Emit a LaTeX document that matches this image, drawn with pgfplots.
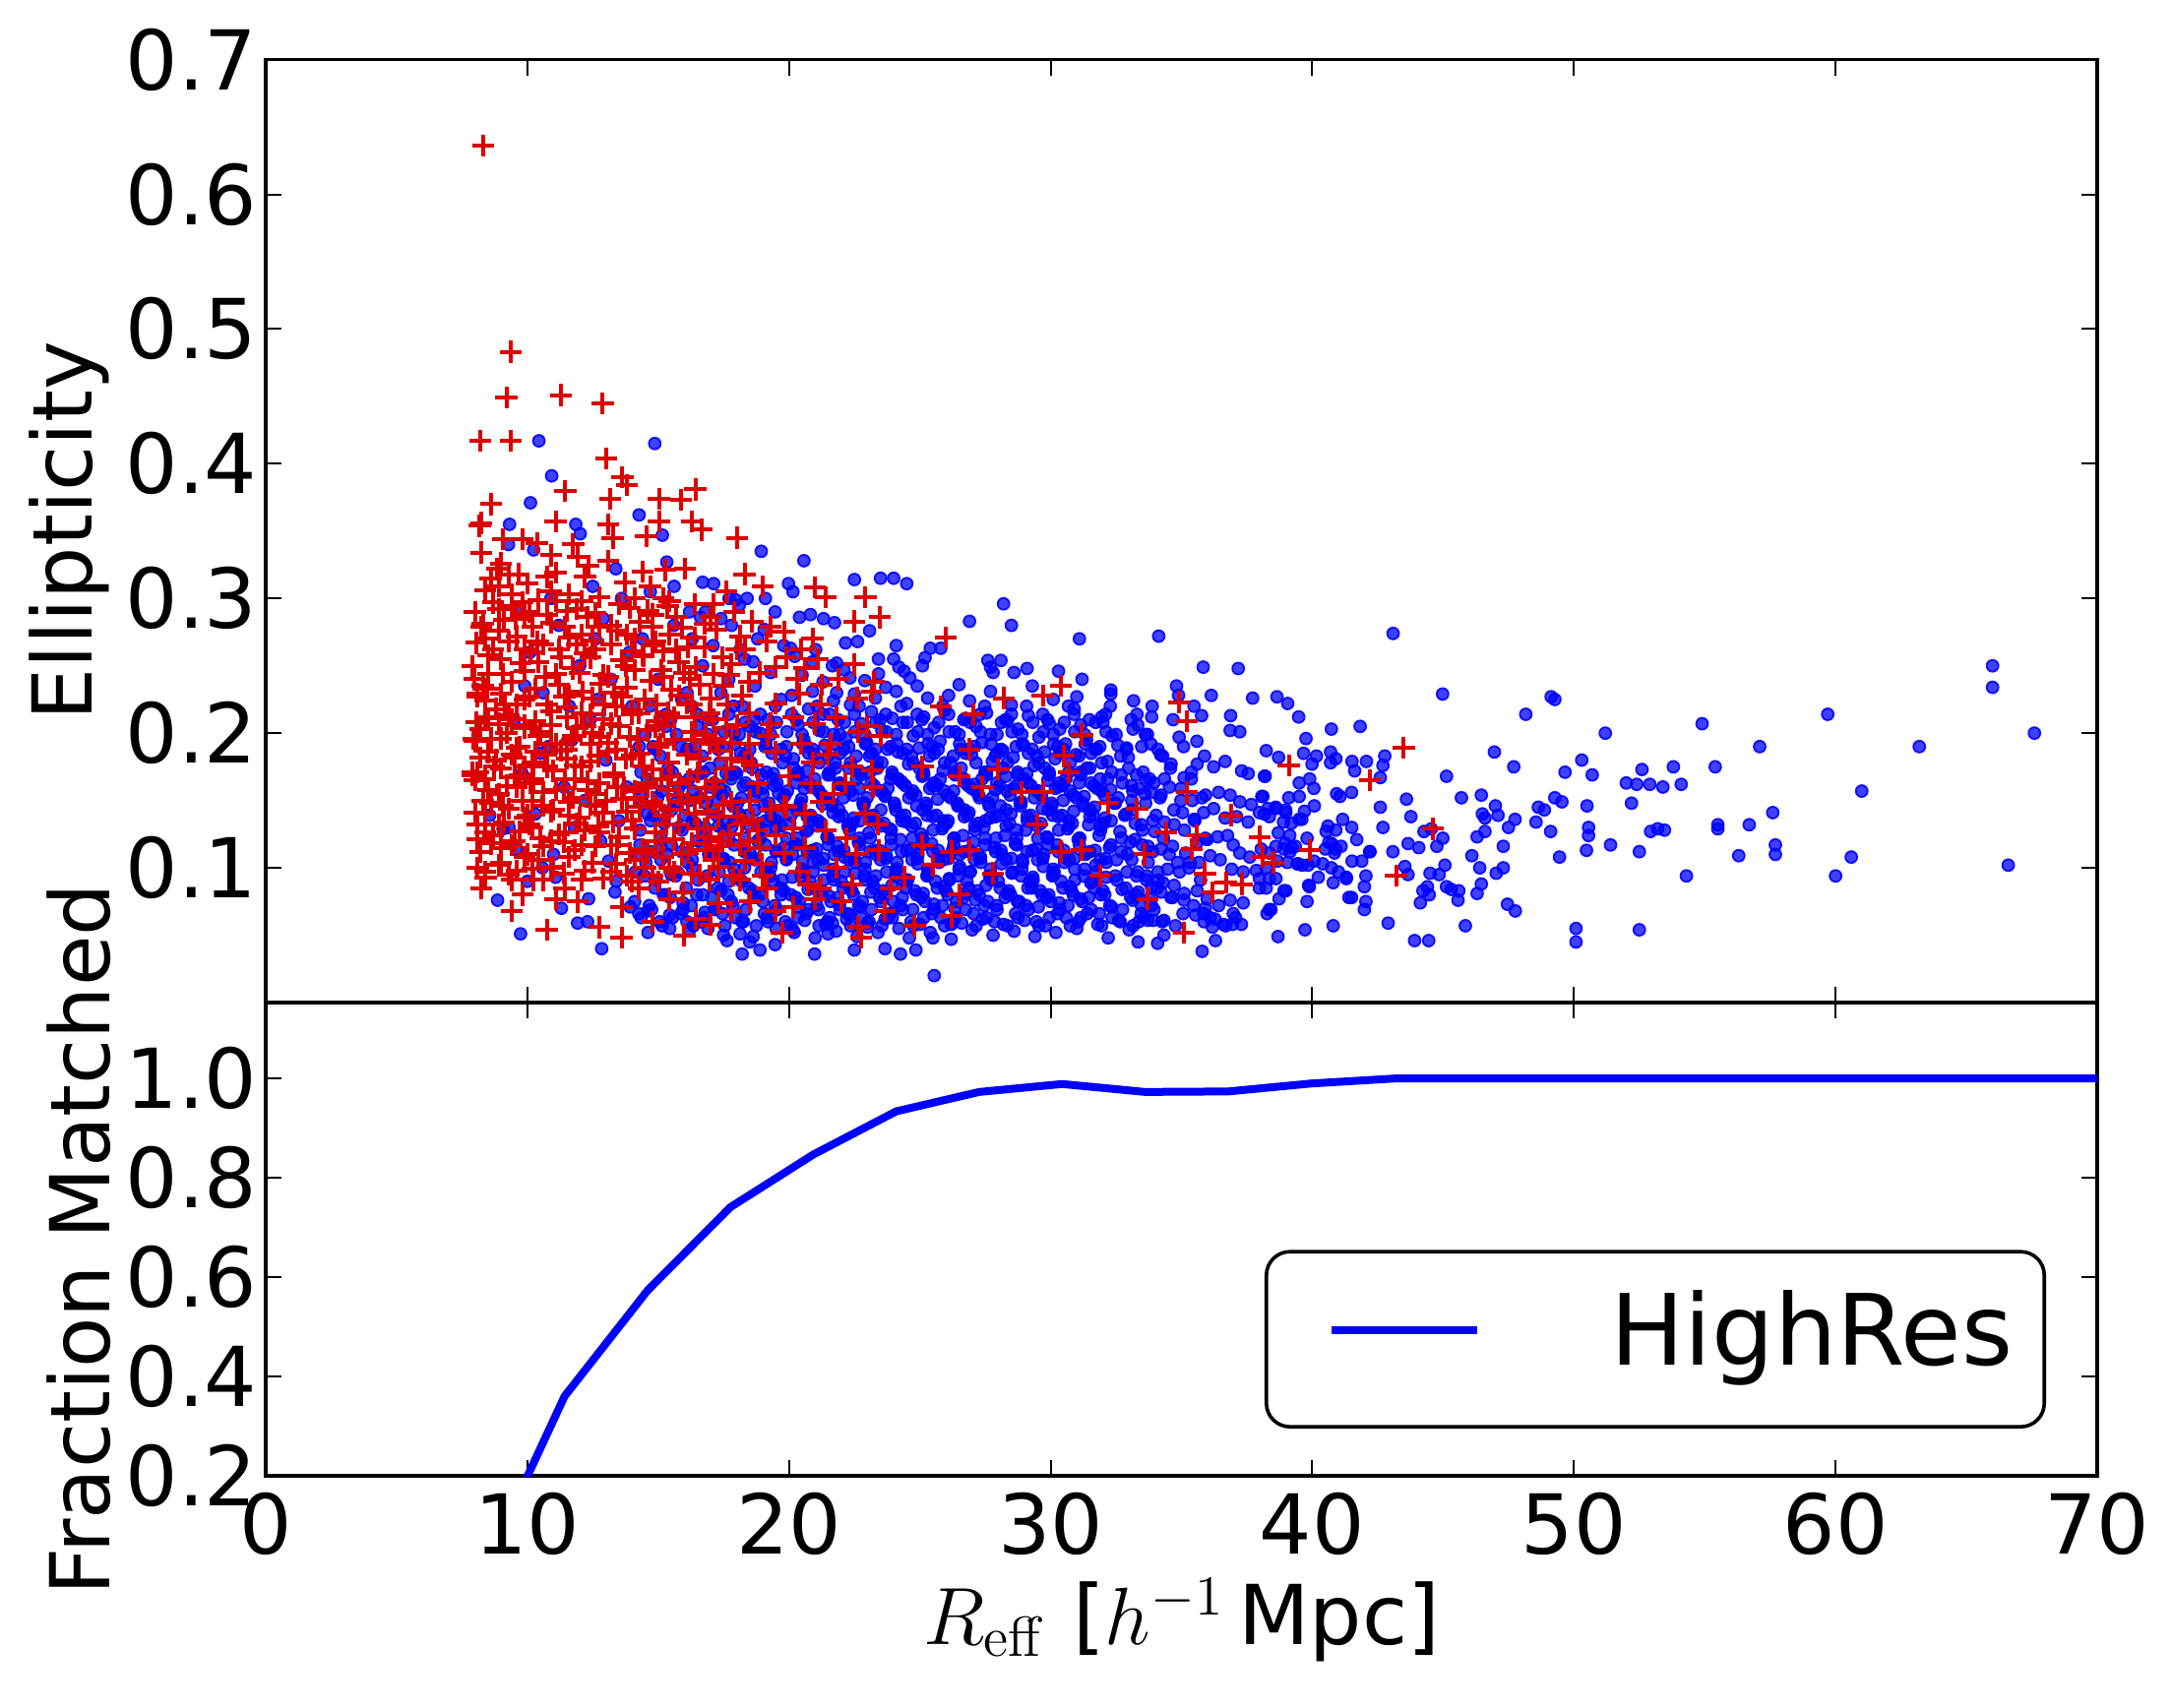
\documentclass[border=0pt]{standalone}
\usepackage{pgfplots}
\pgfplotsset{compat=1.18}
\usepackage[no-math]{fontspec}
\setmainfont{DejaVu Sans}
\definecolor{mred}{RGB}{220,0,0}
\begin{document}
\begin{tikzpicture}
\path[use as bounding box] (0,0) rectangle (551.75bp,434bp);
\pgfplotsset{every axis/.append style={
  scale only axis, width=465.25bp, xmin=0, xmax=70,
  axis line style={line width=0.9bp},
  every tick/.style={black, line width=0.5bp}, major tick length=4bp,
  tick align=inside,
  /pgf/number format/assume math mode=true,
  tick label style={font=\fontsize{21bp}{25bp}\selectfont},
  label style={font=\fontsize{21bp}{25bp}\selectfont},
  yticklabel style={inner xsep=2bp},
  xticklabel style={inner ysep=4bp},
}}
\begin{axis}[at={(67.5bp,59bp)}, anchor=south west, height=120.25bp,
  ymin=0.2, ymax=1.153,
  xtick={0,10,...,70},
  ytick={0.2,0.4,0.6,0.8,1.0}, yticklabels={0.2,0.4,0.6,0.8,1.0},
  xlabel={$R_{\mathrm{eff}}$ [$h^{-1}$\,Mpc]},
  xlabel style={at={(axis description cs:0.5,0)}, anchor=base, yshift=-42.75bp},
  ylabel={Fraction Matched},
  ylabel style={at={(axis description cs:-0.0849,0.5)}, anchor=base},
  legend style={at={(rel axis cs:0.5454,0.0998)}, anchor=south west, draw=black,
    line width=0.9bp, rounded corners=6bp, fill=white, inner xsep=8bp, inner ysep=9.8bp,
    font=\fontsize{25bp}{30bp}\selectfont,
    nodes={inner sep=0pt, text height=19bp, text depth=5.9bp}},
  legend image code/.code={\draw[#1] (8.5bp,2.2bp) -- (45.5bp,2.2bp); \path[draw=none] (0bp,0bp) -- (79.5bp,0bp);},
]
\addplot[blue, line width=2bp] coordinates {
(8.25,0.0) (11.42,0.360) (14.59,0.573) (17.76,0.741) (20.93,0.847) (24.10,0.934)
(27.27,0.973) (30.44,0.989) (33.61,0.973) (36.78,0.974) (39.95,0.990) (43.12,1.0)
(46.29,1.0) (49.46,1.0) (52.63,1.0) (55.80,1.0) (58.97,1.0) (62.14,1.0) (65.31,1.0) (68.48,1.0) (71.65,1.0)
};
\addlegendentry{HighRes}
\end{axis}
\begin{axis}[at={(67.5bp,179.25bp)}, anchor=south west, height=239.6bp,
  ymin=0, ymax=0.7,
  xtick={0,10,...,70}, xticklabels={},
  ytick={0.1,0.2,0.3,0.4,0.5,0.6,0.7}, yticklabels={0.1,0.2,0.3,0.4,0.5,0.6,0.7},
  ylabel={Ellipticity},
  ylabel style={at={(axis description cs:-0.0951,0.5)}, anchor=base},
]
\addplot[only marks, mark=*, mark size=1.5bp, mark options={fill=blue, draw=blue, fill opacity=0.75, draw opacity=0.9, line width=0.45bp}] coordinates {
(10.44,0.417) (14.87,0.415) (10.93,0.391) (10.12,0.371) (9.32,0.355) (9.28,0.340) (11.85,0.355) (12.02,0.348) (10.24,0.336) (14.27,0.362) (15.16,0.347) (18.94,0.335) (20.57,0.328) (13.38,0.322) (15.33,0.327) (16.70,0.312) (17.12,0.311) (17.71,0.300) (17.96,0.299) (19.98,0.311) (20.15,0.305) (22.50,0.314) (23.50,0.315) (19.47,0.290) (20.40,0.286) (20.82,0.288) (21.32,0.285) (21.74,0.282) (23.08,0.276) (22.16,0.267) (15.61,0.309) (12.50,0.309) (16.20,0.290) (16.62,0.286) (19.05,0.277) (18.63,0.253) (18.13,0.262) (20.06,0.263) (20.90,0.253) (21.66,0.250) (22.33,0.241) (21.82,0.230) (23.42,0.244)
(9.74,0.051) (8.86,0.076) (8.56,0.139) (11.92,0.059) (12.84,0.040) (14.61,0.052) (15.44,0.055) (16.20,0.054) (17.63,0.046) (18.21,0.036) (18.89,0.039) (19.47,0.043) (20.98,0.036) (22.50,0.039) (23.67,0.040) (24.26,0.036) (25.55,0.020) (24.85,0.039) (25.50,0.048) (26.20,0.058) (18.13,0.051) (18.63,0.049) (20.15,0.054) (21.49,0.051) (21.66,0.059) (22.33,0.065) (23.00,0.056) (23.67,0.062) (13.93,0.071) (14.61,0.068) (15.44,0.065) (15.95,0.074) (16.79,0.067) (12.34,0.077) (13.35,0.082) (11.08,0.093) (10.58,0.100) (9.57,0.114) (9.07,0.129)
(9.5,0.21) (9.8,0.17) (10.1,0.26) (10.3,0.14) (10.6,0.23) (10.8,0.19) (11.0,0.11) (11.2,0.28) (11.4,0.16) (11.6,0.22) (11.8,0.13) (12.0,0.25) (9.6,0.29) (10.0,0.09) (10.9,0.30) (11.3,0.07) (9.3,0.13) (9.9,0.235) (10.5,0.185) (11.7,0.195)
(12.2,0.15) (12.4,0.21) (12.6,0.27) (12.8,0.12) (13.0,0.18) (13.2,0.24) (13.4,0.09) (13.6,0.30) (13.8,0.16) (14.0,0.22) (14.2,0.11) (14.4,0.27) (14.6,0.14) (14.8,0.19) (15.0,0.24) (15.2,0.08) (15.4,0.17) (15.6,0.28) (15.8,0.13) (12.3,0.06) (12.9,0.285) (13.5,0.135) (14.1,0.075) (14.7,0.305) (15.3,0.205) (15.9,0.225) (13.1,0.105) (14.3,0.155) (15.1,0.115) (12.7,0.225) (13.9,0.26) (15.5,0.095)
(16.1,0.06) (16.3,0.10) (16.2,0.15) (16.4,0.19) (16.1,0.23) (16.3,0.27) (16.7,0.08) (16.8,0.13) (16.6,0.17) (16.9,0.21) (16.7,0.25) (16.8,0.29) (17.2,0.07) (17.1,0.11) (17.3,0.15) (17.2,0.19) (17.4,0.23) (17.1,0.265) (17.7,0.09) (17.8,0.13) (17.6,0.17) (17.9,0.20) (17.7,0.24) (17.8,0.28) (18.2,0.06) (18.3,0.10) (18.1,0.14) (18.4,0.18) (18.2,0.22) (18.3,0.255) (18.1,0.295) (18.7,0.08) (18.8,0.12) (18.6,0.16) (18.9,0.20) (18.7,0.235) (18.8,0.27) (19.2,0.06) (19.3,0.10) (19.1,0.135) (19.4,0.17) (19.2,0.21) (19.3,0.245) (19.1,0.30) (19.7,0.08) (19.8,0.115) (19.6,0.155) (19.9,0.19) (19.7,0.225) (19.8,0.265) (16.5,0.12) (17.0,0.16) (17.5,0.105) (18.0,0.17) (18.5,0.205) (19.0,0.155) (19.5,0.13) (16.9,0.055) (17.5,0.05) (18.5,0.045) (19.5,0.055) (16.5,0.205) (17.4,0.285) (18.4,0.30)
(20.20,0.052) (20.33,0.071) (20.12,0.093) (20.25,0.118) (20.08,0.139) (20.29,0.163) (20.17,0.181) (20.35,0.206) (20.10,0.228) (20.22,0.257)
(20.60,0.061) (20.73,0.084) (20.52,0.105) (20.65,0.127) (20.48,0.151) (20.69,0.172) (20.57,0.195) (20.75,0.218) (20.50,0.243)
(21.00,0.048) (21.13,0.069) (20.92,0.097) (21.05,0.114) (20.88,0.136) (21.09,0.158) (20.97,0.184) (21.15,0.202) (20.90,0.231) (21.02,0.262)
(21.40,0.058) (21.53,0.079) (21.32,0.102) (21.45,0.123) (21.28,0.147) (21.49,0.169) (21.37,0.191) (21.55,0.214) (21.30,0.238)
(21.80,0.053) (21.93,0.073) (21.72,0.091) (21.85,0.116) (21.68,0.141) (21.89,0.162) (21.77,0.178) (21.95,0.199) (21.70,0.224) (21.82,0.252)
(22.20,0.062) (22.33,0.085) (22.12,0.108) (22.25,0.131) (22.08,0.152) (22.29,0.174) (22.17,0.196) (22.35,0.221) (22.10,0.247)
(22.60,0.049) (22.73,0.071) (22.52,0.096) (22.65,0.119) (22.48,0.137) (22.69,0.159) (22.57,0.183) (22.75,0.207) (22.50,0.229) (22.62,0.268)
(23.00,0.059) (23.13,0.082) (22.92,0.104) (23.05,0.126) (22.88,0.148) (23.09,0.171) (22.97,0.193) (23.15,0.216) (22.90,0.239)
(23.40,0.052) (23.53,0.075) (23.32,0.094) (23.45,0.113) (23.28,0.135) (23.49,0.157) (23.37,0.179) (23.55,0.202) (23.30,0.226) (23.42,0.255)
(23.80,0.063) (23.93,0.087) (23.72,0.109) (23.85,0.129) (23.68,0.153) (23.89,0.166) (23.77,0.188) (23.95,0.211) (23.70,0.234)
(24.20,0.055) (24.33,0.078) (24.12,0.099) (24.25,0.121) (24.08,0.143) (24.29,0.164) (24.17,0.186) (24.35,0.208) (24.10,0.231)
(24.60,0.048) (24.73,0.069) (24.52,0.091) (24.65,0.114) (24.48,0.134) (24.69,0.155) (24.57,0.177) (24.75,0.198) (24.50,0.222) (24.62,0.241)
(25.00,0.058) (25.13,0.081) (24.92,0.103) (25.05,0.125) (24.88,0.146) (25.09,0.168) (24.97,0.189) (25.15,0.212) (24.90,0.235)
(25.40,0.052) (25.53,0.073) (25.32,0.095) (25.45,0.118) (25.28,0.139) (25.49,0.161) (25.37,0.183) (25.55,0.204) (25.30,0.226)
(25.80,0.063) (25.93,0.086) (25.72,0.107) (25.85,0.129) (25.68,0.151) (25.89,0.172) (25.77,0.194) (25.95,0.217)
(26.20,0.047) (26.33,0.070) (26.12,0.092) (26.25,0.113) (26.08,0.135) (26.29,0.157) (26.17,0.178) (26.35,0.201) (26.10,0.228)
(26.60,0.059) (26.73,0.081) (26.52,0.101) (26.65,0.124) (26.48,0.146) (26.69,0.166) (26.57,0.188) (26.75,0.211) (26.50,0.236)
(27.00,0.054) (27.13,0.076) (26.92,0.097) (27.05,0.119) (26.88,0.141) (27.09,0.162) (26.97,0.184) (27.15,0.205) (26.90,0.224)
(27.40,0.062) (27.53,0.087) (27.32,0.108) (27.45,0.130) (27.28,0.152) (27.49,0.171) (27.37,0.193) (27.55,0.215)
(27.80,0.050) (27.93,0.072) (27.72,0.093) (27.85,0.115) (27.68,0.137) (27.89,0.158) (27.77,0.179) (27.95,0.199) (27.70,0.231)
(28.20,0.058) (28.33,0.081) (28.12,0.103) (28.25,0.124) (28.08,0.146) (28.29,0.168) (28.17,0.187) (28.35,0.209)
(28.60,0.053) (28.73,0.075) (28.52,0.096) (28.65,0.118) (28.48,0.140) (28.69,0.161) (28.57,0.182) (28.75,0.203) (28.50,0.221)
(29.00,0.061) (29.13,0.085) (28.92,0.106) (29.05,0.128) (28.88,0.149) (29.09,0.170) (28.97,0.191) (29.15,0.213)
(29.40,0.049) (29.53,0.071) (29.32,0.093) (29.45,0.114) (29.28,0.135) (29.49,0.157) (29.37,0.176) (29.55,0.197) (29.30,0.235)
(29.80,0.057) (29.93,0.080) (29.72,0.101) (29.85,0.123) (29.68,0.144) (29.89,0.165) (29.77,0.186) (29.95,0.207)
(30.20,0.052) (30.33,0.074) (30.12,0.095) (30.25,0.117) (30.08,0.139) (30.29,0.160) (30.17,0.181) (30.35,0.203) (30.10,0.225)
(30.60,0.063) (30.73,0.086) (30.52,0.108) (30.65,0.129) (30.48,0.150) (30.69,0.171) (30.57,0.192)
(31.00,0.055) (31.13,0.077) (30.92,0.099) (31.05,0.121) (30.88,0.142) (31.09,0.163) (30.97,0.184) (31.15,0.206)
(31.40,0.066) (31.53,0.089) (31.32,0.111) (31.45,0.132) (31.28,0.153) (31.49,0.174) (31.37,0.195)
(31.80,0.058) (31.93,0.080) (31.72,0.102) (31.85,0.124) (31.68,0.145) (31.89,0.166) (31.77,0.188) (31.95,0.212)
(32.20,0.048) (32.33,0.071) (32.12,0.093) (32.25,0.115) (32.08,0.137) (32.29,0.158) (32.17,0.179) (32.35,0.198)
(32.60,0.061) (32.73,0.084) (32.52,0.106) (32.65,0.127) (32.48,0.148) (32.69,0.169) (32.57,0.191)
(33.00,0.054) (33.13,0.076) (32.92,0.097) (33.05,0.119) (32.88,0.140) (33.09,0.161) (32.97,0.182) (33.15,0.203)
(17.4,0.083) (17.5,0.107) (17.3,0.131) (17.45,0.154) (17.35,0.178) (17.52,0.201)
(17.8,0.075) (17.9,0.099) (17.7,0.122) (17.85,0.146) (17.75,0.169) (17.92,0.192)
(18.2,0.090) (18.3,0.113) (18.1,0.138) (18.25,0.161) (18.15,0.185) (18.32,0.208)
(18.6,0.083) (18.7,0.107) (18.5,0.131) (18.65,0.154) (18.55,0.178) (18.72,0.201)
(19.0,0.075) (19.1,0.099) (18.9,0.122) (19.05,0.146) (18.95,0.169) (19.12,0.192)
(19.4,0.090) (19.5,0.113) (19.3,0.138) (19.45,0.161) (19.35,0.185) (19.52,0.208)
(19.8,0.083) (19.9,0.107) (19.7,0.131) (19.85,0.154) (19.75,0.178) (19.92,0.201)
(20.4,0.075) (20.5,0.099) (20.3,0.122) (20.45,0.146) (20.35,0.169) (20.52,0.192)
(20.8,0.090) (20.9,0.113) (20.7,0.138) (20.85,0.161) (20.75,0.185) (20.92,0.208)
(21.2,0.083) (21.3,0.107) (21.1,0.131) (21.25,0.154) (21.15,0.178) (21.32,0.201)
(21.6,0.075) (21.7,0.099) (21.5,0.122) (21.65,0.146) (21.55,0.169) (21.72,0.192)
(22.0,0.090) (22.1,0.113) (21.9,0.138) (22.05,0.161) (21.95,0.185) (22.12,0.208)
(22.4,0.083) (22.5,0.107) (22.3,0.131) (22.45,0.154) (22.35,0.178) (22.52,0.201)
(22.8,0.075) (22.9,0.099) (22.7,0.122) (22.85,0.146) (22.75,0.169) (22.92,0.192)
(23.2,0.090) (23.3,0.113) (23.1,0.138) (23.25,0.161) (23.15,0.185) (23.32,0.208)
(23.6,0.083) (23.7,0.107) (23.5,0.131) (23.65,0.154) (23.55,0.178) (23.72,0.201)
(24.0,0.075) (24.1,0.099) (23.9,0.122) (24.05,0.146) (23.95,0.169) (24.12,0.192)
(24.4,0.090) (24.5,0.113) (24.3,0.138) (24.45,0.161) (24.35,0.185) (24.52,0.208)
(24.8,0.083) (24.9,0.107) (24.7,0.131) (24.85,0.154) (24.75,0.178) (24.92,0.201)
(25.2,0.075) (25.3,0.099) (25.1,0.122) (25.25,0.146) (25.15,0.169) (25.32,0.192)
(25.6,0.090) (25.7,0.113) (25.5,0.138) (25.65,0.161) (25.55,0.185) (25.72,0.208)
(26.0,0.083) (26.1,0.107) (25.9,0.131) (26.05,0.154) (25.95,0.178) (26.12,0.201)
(26.4,0.075) (26.5,0.099) (26.3,0.122) (26.45,0.146) (26.35,0.169) (26.52,0.192)
(26.8,0.090) (26.9,0.113) (26.7,0.138) (26.85,0.161) (26.75,0.185) (26.92,0.208)
(27.2,0.083) (27.3,0.107) (27.1,0.131) (27.25,0.154) (27.15,0.178) (27.32,0.201)
(27.6,0.075) (27.7,0.099) (27.5,0.122) (27.65,0.146) (27.55,0.169) (27.72,0.192)
(28.0,0.090) (28.1,0.113) (27.9,0.138) (28.05,0.161) (27.95,0.185) (28.12,0.208)
(28.4,0.083) (28.5,0.107) (28.3,0.131) (28.45,0.154) (28.35,0.178) (28.52,0.201)
(28.8,0.075) (28.9,0.099) (28.7,0.122) (28.85,0.146) (28.75,0.169) (28.92,0.192)
(29.2,0.090) (29.3,0.113) (29.1,0.138) (29.25,0.161) (29.15,0.185) (29.32,0.208)
(29.6,0.083) (29.7,0.107) (29.5,0.131) (29.65,0.154) (29.55,0.178) (29.72,0.201)
(30.0,0.075) (30.1,0.099) (29.9,0.122) (30.05,0.146) (29.95,0.169) (30.12,0.192)
(30.4,0.090) (30.5,0.113) (30.3,0.138) (30.45,0.161) (30.35,0.185) (30.52,0.208)
(30.8,0.083) (30.9,0.107) (30.7,0.131) (30.85,0.154) (30.75,0.178) (30.92,0.201)
(31.2,0.075) (31.3,0.099) (31.1,0.122) (31.25,0.146) (31.15,0.169) (31.32,0.192)
(31.6,0.090) (31.7,0.113) (31.5,0.138) (31.65,0.161) (31.55,0.185) (31.72,0.208)
(32.0,0.083) (32.1,0.107) (31.9,0.131) (32.05,0.154) (31.95,0.178) (32.12,0.201)
(14.26,0.066) (14.13,0.097) (14.31,0.128) (14.18,0.159) (14.28,0.190)
(14.66,0.072) (14.53,0.104) (14.71,0.135) (14.58,0.166) (14.68,0.220)
(15.06,0.060) (14.93,0.091) (15.11,0.122) (14.98,0.152) (15.08,0.183)
(15.46,0.078) (15.33,0.110) (15.51,0.143) (15.38,0.174) (15.48,0.210)
(15.86,0.066) (15.73,0.097) (15.91,0.128) (15.78,0.159) (15.88,0.190)
(16.26,0.072) (16.13,0.104) (16.31,0.135) (16.18,0.166) (16.28,0.220)
(16.66,0.060) (16.53,0.091) (16.71,0.122) (16.58,0.152) (16.68,0.183)
(17.06,0.078) (16.93,0.110) (17.11,0.143) (16.98,0.174) (17.08,0.210)
(17.46,0.066) (17.33,0.097) (17.51,0.128) (17.38,0.159) (17.48,0.190)
(17.86,0.072) (17.73,0.104) (17.91,0.135) (17.78,0.166) (17.88,0.220)
(18.26,0.060) (18.13,0.091) (18.31,0.122) (18.18,0.152) (18.28,0.183)
(18.66,0.078) (18.53,0.110) (18.71,0.143) (18.58,0.174) (18.68,0.210)
(19.06,0.066) (18.93,0.097) (19.11,0.128) (18.98,0.159) (19.08,0.190)
(19.46,0.072) (19.33,0.104) (19.51,0.135) (19.38,0.166) (19.48,0.220)
(19.86,0.060) (19.73,0.091) (19.91,0.122) (19.78,0.152) (19.88,0.183)
(20.26,0.078) (20.13,0.110) (20.31,0.143) (20.18,0.174) (20.28,0.210)
(20.66,0.066) (20.53,0.097) (20.71,0.128) (20.58,0.159) (20.68,0.190)
(21.06,0.072) (20.93,0.104) (21.11,0.135) (20.98,0.166) (21.08,0.220)
(21.46,0.060) (21.33,0.091) (21.51,0.122) (21.38,0.152) (21.48,0.183)
(21.86,0.078) (21.73,0.110) (21.91,0.143) (21.78,0.174) (21.88,0.210)
(22.26,0.066) (22.13,0.097) (22.31,0.128) (22.18,0.159) (22.28,0.190)
(22.66,0.072) (22.53,0.104) (22.71,0.135) (22.58,0.166) (22.68,0.220)
(23.06,0.060) (22.93,0.091) (23.11,0.122) (22.98,0.152) (23.08,0.183)
(23.46,0.078) (23.33,0.110) (23.51,0.143) (23.38,0.174) (23.48,0.210)
(23.86,0.066) (23.73,0.097) (23.91,0.128) (23.78,0.159) (23.88,0.190)
(24.26,0.072) (24.13,0.104) (24.31,0.135) (24.18,0.166) (24.28,0.220)
(24.66,0.060) (24.53,0.091) (24.71,0.122) (24.58,0.152) (24.68,0.183)
(25.06,0.078) (24.93,0.110) (25.11,0.143) (24.98,0.174) (25.08,0.210)
(25.46,0.066) (25.33,0.097) (25.51,0.128) (25.38,0.159) (25.48,0.190)
(25.86,0.072) (25.73,0.104) (25.91,0.135) (25.78,0.166) (25.88,0.220)
(26.26,0.060) (26.13,0.091) (26.31,0.122) (26.18,0.152) (26.28,0.183)
(26.66,0.078) (26.53,0.110) (26.71,0.143) (26.58,0.174) (26.68,0.210)
(27.06,0.066) (26.93,0.097) (27.11,0.128) (26.98,0.159) (27.08,0.190)
(27.46,0.072) (27.33,0.104) (27.51,0.135) (27.38,0.166) (27.48,0.220)
(27.86,0.060) (27.73,0.091) (27.91,0.122) (27.78,0.152) (27.88,0.183)
(28.26,0.078) (28.13,0.110) (28.31,0.143) (28.18,0.174) (28.28,0.210)
(28.66,0.066) (28.53,0.097) (28.71,0.128) (28.58,0.159) (28.68,0.190)
(29.06,0.072) (28.93,0.104) (29.11,0.135) (28.98,0.166) (29.08,0.220)
(29.46,0.060) (29.33,0.091) (29.51,0.122) (29.38,0.152) (29.48,0.183)
(29.86,0.078) (29.73,0.110) (29.91,0.143) (29.78,0.174) (29.88,0.210)
(30.26,0.066) (30.13,0.097) (30.31,0.128) (30.18,0.159) (30.28,0.190)
(30.66,0.072) (30.53,0.104) (30.71,0.135) (30.58,0.166) (30.68,0.220)
(31.06,0.060) (30.93,0.091) (31.11,0.122) (30.98,0.152) (31.08,0.183)
(31.46,0.078) (31.33,0.110) (31.51,0.143) (31.38,0.174) (31.48,0.210)
(31.86,0.066) (31.73,0.097) (31.91,0.128) (31.78,0.159) (31.88,0.190)
(32.26,0.072) (32.13,0.104) (32.31,0.135) (32.18,0.166) (32.28,0.220)
(32.66,0.060) (32.53,0.091) (32.71,0.122) (32.58,0.152) (32.68,0.183)
(33.06,0.078) (32.93,0.110) (33.11,0.143) (32.98,0.174) (33.08,0.210)
(33.46,0.066) (33.33,0.097) (33.51,0.128) (33.38,0.159) (33.48,0.190)
(33.86,0.072) (33.73,0.104) (33.91,0.135) (33.78,0.166) (33.88,0.220)
(34.26,0.060) (34.13,0.091) (34.31,0.122) (34.18,0.152) (34.28,0.183)
(34.66,0.078) (34.53,0.110) (34.71,0.143) (34.58,0.174) (34.68,0.210)
(35.06,0.066) (34.93,0.097) (35.11,0.128) (34.98,0.159) (35.08,0.190)
(35.46,0.072) (35.33,0.104) (35.51,0.135) (35.38,0.166) (35.48,0.220)
(35.86,0.060) (35.73,0.091) (35.91,0.122) (35.78,0.152) (35.88,0.183)
(14.35,0.063) (14.47,0.094) (14.30,0.117) (14.43,0.148) (14.34,0.171) (14.50,0.199)
(14.75,0.069) (14.87,0.085) (14.70,0.112) (14.83,0.139) (14.74,0.163) (14.90,0.188)
(15.15,0.057) (15.27,0.080) (15.10,0.106) (15.23,0.133) (15.14,0.157) (15.30,0.214)
(15.55,0.063) (15.67,0.094) (15.50,0.117) (15.63,0.148) (15.54,0.171) (15.70,0.199)
(15.95,0.069) (16.07,0.085) (15.90,0.112) (16.03,0.139) (15.94,0.163) (16.10,0.188)
(16.35,0.057) (16.47,0.080) (16.30,0.106) (16.43,0.133) (16.34,0.157) (16.50,0.214)
(16.75,0.063) (16.87,0.094) (16.70,0.117) (16.83,0.148) (16.74,0.171) (16.90,0.199)
(17.15,0.069) (17.27,0.085) (17.10,0.112) (17.23,0.139) (17.14,0.163) (17.30,0.188)
(17.55,0.057) (17.67,0.080) (17.50,0.106) (17.63,0.133) (17.54,0.157) (17.70,0.214)
(17.95,0.063) (18.07,0.094) (17.90,0.117) (18.03,0.148) (17.94,0.171) (18.10,0.199)
(18.35,0.069) (18.47,0.085) (18.30,0.112) (18.43,0.139) (18.34,0.163) (18.50,0.188)
(18.75,0.057) (18.87,0.080) (18.70,0.106) (18.83,0.133) (18.74,0.157) (18.90,0.214)
(19.15,0.063) (19.27,0.094) (19.10,0.117) (19.23,0.148) (19.14,0.171) (19.30,0.199)
(19.55,0.069) (19.67,0.085) (19.50,0.112) (19.63,0.139) (19.54,0.163) (19.70,0.188)
(19.95,0.057) (20.07,0.080) (19.90,0.106) (20.03,0.133) (19.94,0.157) (20.10,0.214)
(20.35,0.063) (20.47,0.094) (20.30,0.117) (20.43,0.148) (20.34,0.171) (20.50,0.199)
(20.75,0.069) (20.87,0.085) (20.70,0.112) (20.83,0.139) (20.74,0.163) (20.90,0.188)
(21.15,0.057) (21.27,0.080) (21.10,0.106) (21.23,0.133) (21.14,0.157) (21.30,0.214)
(21.55,0.063) (21.67,0.094) (21.50,0.117) (21.63,0.148) (21.54,0.171) (21.70,0.199)
(21.95,0.069) (22.07,0.085) (21.90,0.112) (22.03,0.139) (21.94,0.163) (22.10,0.188)
(22.35,0.057) (22.47,0.080) (22.30,0.106) (22.43,0.133) (22.34,0.157) (22.50,0.214)
(22.75,0.063) (22.87,0.094) (22.70,0.117) (22.83,0.148) (22.74,0.171) (22.90,0.199)
(23.15,0.069) (23.27,0.085) (23.10,0.112) (23.23,0.139) (23.14,0.163) (23.30,0.188)
(23.55,0.057) (23.67,0.080) (23.50,0.106) (23.63,0.133) (23.54,0.157) (23.70,0.214)
(23.95,0.063) (24.07,0.094) (23.90,0.117) (24.03,0.148) (23.94,0.171) (24.10,0.199)
(24.35,0.069) (24.47,0.085) (24.30,0.112) (24.43,0.139) (24.34,0.163) (24.50,0.188)
(24.75,0.057) (24.87,0.080) (24.70,0.106) (24.83,0.133) (24.74,0.157) (24.90,0.214)
(25.15,0.063) (25.27,0.094) (25.10,0.117) (25.23,0.148) (25.14,0.171) (25.30,0.199)
(25.55,0.069) (25.67,0.085) (25.50,0.112) (25.63,0.139) (25.54,0.163) (25.70,0.188)
(25.95,0.057) (26.07,0.080) (25.90,0.106) (26.03,0.133) (25.94,0.157) (26.10,0.214)
(26.35,0.063) (26.47,0.094) (26.30,0.117) (26.43,0.148) (26.34,0.171) (26.50,0.199)
(26.75,0.069) (26.87,0.085) (26.70,0.112) (26.83,0.139) (26.74,0.163) (26.90,0.188)
(27.15,0.057) (27.27,0.080) (27.10,0.106) (27.23,0.133) (27.14,0.157) (27.30,0.214)
(27.55,0.063) (27.67,0.094) (27.50,0.117) (27.63,0.148) (27.54,0.171) (27.70,0.199)
(27.95,0.069) (28.07,0.085) (27.90,0.112) (28.03,0.139) (27.94,0.163) (28.10,0.188)
(28.35,0.057) (28.47,0.080) (28.30,0.106) (28.43,0.133) (28.34,0.157) (28.50,0.214)
(28.75,0.063) (28.87,0.094) (28.70,0.117) (28.83,0.148) (28.74,0.171) (28.90,0.199)
(29.15,0.069) (29.27,0.085) (29.10,0.112) (29.23,0.139) (29.14,0.163) (29.30,0.188)
(29.55,0.057) (29.67,0.080) (29.50,0.106) (29.63,0.133) (29.54,0.157) (29.70,0.214)
(29.95,0.063) (30.07,0.094) (29.90,0.117) (30.03,0.148) (29.94,0.171) (30.10,0.199)
(30.35,0.069) (30.47,0.085) (30.30,0.112) (30.43,0.139) (30.34,0.163) (30.50,0.188)
(30.75,0.057) (30.87,0.080) (30.70,0.106) (30.83,0.133) (30.74,0.157) (30.90,0.214)
(31.15,0.063) (31.27,0.094) (31.10,0.117) (31.23,0.148) (31.14,0.171) (31.30,0.199)
(31.55,0.069) (31.67,0.085) (31.50,0.112) (31.63,0.139) (31.54,0.163) (31.70,0.188)
(31.95,0.057) (32.07,0.080) (31.90,0.106) (32.03,0.133) (31.94,0.157) (32.10,0.214)
(32.35,0.063) (32.47,0.094) (32.30,0.117) (32.43,0.148) (32.34,0.171) (32.50,0.199)
(32.75,0.069) (32.87,0.085) (32.70,0.112) (32.83,0.139) (32.74,0.163) (32.90,0.188)
(33.15,0.057) (33.27,0.080) (33.10,0.106) (33.23,0.133) (33.14,0.157) (33.30,0.214)
(33.55,0.063) (33.67,0.094) (33.50,0.117) (33.63,0.148) (33.54,0.171) (33.70,0.199)
(33.95,0.069) (34.07,0.085) (33.90,0.112) (34.03,0.139) (33.94,0.163) (34.10,0.188)
(24.0,0.315) (24.5,0.311) (28.2,0.296) (26.9,0.283) (28.5,0.280) (31.1,0.270) (24.1,0.265) (25.4,0.263) (25.8,0.263) (25.2,0.256) (25.1,0.250) (24.0,0.255) (24.2,0.249) (24.4,0.246) (27.6,0.254) (28.1,0.254) (27.8,0.245) (27.7,0.249) (28.6,0.245) (29.1,0.248) (30.3,0.246) (31.2,0.240) (31.0,0.227) (30.9,0.218) (32.3,0.232) (32.3,0.229) (32.0,0.208) (32.9,0.189)
(34.13,0.272) (43.09,0.274) (35.83,0.249) (37.17,0.248) (34.81,0.235) (34.89,0.228) (36.14,0.228) (33.17,0.224) (37.72,0.226) (38.65,0.227) (39.06,0.222) (39.48,0.212) (35.77,0.213) (36.88,0.213) (33.86,0.212) (33.33,0.206) (34.91,0.197) (33.62,0.199) (36.86,0.202) (37.23,0.201) (35.59,0.194) (33.83,0.192) (39.76,0.196) (40.73,0.203) (41.83,0.205) (44.98,0.229) (45.13,0.168) (45.70,0.152) (43.60,0.151) (43.77,0.138) (44.55,0.129) (44.27,0.127) (44.99,0.122) (44.76,0.116) (43.66,0.118) (44.07,0.115) (43.08,0.112) (43.54,0.101) (43.66,0.095) (44.50,0.096) (44.85,0.095) (45.07,0.102) (44.40,0.086) (44.23,0.083) (44.47,0.080) (44.13,0.074) (45.13,0.086) (45.31,0.084) (45.60,0.083) (45.57,0.076) (45.85,0.057) (46.10,0.109) (43.91,0.046) (44.45,0.046) (42.90,0.059) (42.60,0.145) (42.70,0.130) (42.20,0.112) (42.05,0.094) (41.99,0.086) (42.05,0.075) (41.99,0.069) (41.70,0.121) (41.51,0.130) (41.16,0.136) (41.40,0.078) (41.50,0.078) (40.80,0.057) (40.80,0.089) (41.30,0.093) (41.00,0.097) (40.73,0.100) (40.40,0.103) (40.85,0.111) (41.10,0.116) (40.74,0.118) (40.60,0.131) (40.53,0.127) (40.90,0.128) (40.23,0.093) (39.89,0.086) (39.80,0.075) (39.72,0.054) (38.69,0.049) (35.79,0.038) (36.30,0.046) (34.33,0.050) (34.09,0.044) (33.34,0.045) (33.37,0.060) (33.72,0.061) (33.92,0.061) (34.33,0.061) (34.77,0.057) (36.28,0.062) (36.18,0.056) (35.85,0.066) (35.91,0.070) (36.69,0.057) (36.95,0.058) (37.29,0.058) (37.07,0.063) (38.27,0.066) (38.42,0.069) (38.73,0.077) (38.92,0.083) (39.80,0.122) (40.06,0.105) (39.84,0.102) (39.44,0.103) (39.15,0.112) (39.23,0.115) (38.96,0.118) (38.70,0.126) (39.50,0.136) (39.60,0.136) (39.20,0.133) (38.90,0.134) (39.70,0.142) (39.50,0.153) (39.90,0.166) (40.06,0.159) (39.50,0.163) (39.10,0.152) (38.60,0.145) (38.98,0.143) (38.30,0.144) (38.17,0.140) (38.07,0.153) (38.20,0.168) (38.24,0.187) (38.71,0.182) (39.67,0.185) (39.99,0.177) (40.16,0.183) (40.70,0.186) (40.70,0.178) (40.90,0.181) (41.52,0.179) (41.62,0.172) (42.07,0.179) (42.70,0.176) (42.77,0.183) (42.60,0.167) (41.50,0.156) (40.93,0.155) (41.06,0.153) (40.08,0.146) (39.14,0.124) (39.35,0.116) (40.63,0.119) (40.90,0.114) (40.50,0.114) (41.89,0.105) (41.52,0.105) (42.20,0.112) (41.30,0.092)
(33.10,0.150) (33.60,0.155) (34.20,0.184) (34.60,0.177) (35.10,0.167) (35.38,0.171) (35.60,0.177) (36.23,0.175) (36.67,0.179) (37.30,0.172) (37.55,0.170) (38.17,0.168) (33.28,0.169) (33.66,0.165) (34.35,0.166) (34.54,0.160) (34.22,0.154) (33.85,0.156) (34.98,0.150) (35.41,0.150) (35.92,0.154) (36.42,0.156) (36.86,0.154) (37.23,0.149) (37.67,0.147) (38.11,0.153) (38.61,0.144) (38.99,0.141) (38.36,0.138) (37.98,0.141) (37.55,0.134) (37.11,0.138) (36.67,0.137) (36.23,0.144) (35.85,0.141) (35.48,0.136) (35.04,0.141) (34.72,0.132) (34.35,0.134) (33.97,0.127) (33.47,0.132) (33.22,0.121) (33.72,0.116) (34.22,0.114) (34.66,0.116) (35.16,0.111) (35.60,0.119) (35.98,0.121) (36.38,0.123) (36.76,0.124) (36.98,0.117) (37.23,0.111) (37.61,0.108) (38.05,0.114) (38.36,0.111) (38.61,0.116) (38.92,0.114) (39.43,0.103) (39.61,0.102) (39.05,0.104) (38.67,0.105) (38.24,0.100) (37.86,0.098) (37.36,0.097) (36.92,0.099) (36.48,0.106) (36.10,0.109) (35.67,0.104) (35.29,0.100) (34.85,0.104) (34.47,0.099) (34.10,0.097) (33.66,0.091) (33.28,0.094) (33.35,0.082) (33.85,0.086) (34.29,0.089) (34.72,0.087) (35.10,0.081) (35.60,0.083) (35.98,0.077) (36.42,0.072) (36.86,0.076) (37.36,0.074) (36.98,0.066) (36.60,0.058) (36.10,0.063) (35.54,0.065) (35.10,0.076) (34.60,0.078) (34.22,0.082) (33.78,0.077) (33.47,0.072) (38.36,0.092) (38.61,0.092) (37.98,0.092) (38.24,0.085) (37.98,0.085) (38.36,0.069) (38.99,0.083) (39.86,0.087)
(66.0,0.250) (66.0,0.234) (67.6,0.200) (66.6,0.102) (63.2,0.190) (61.0,0.157) (60.6,0.108) (60.0,0.094) (59.7,0.214) (57.6,0.141) (57.7,0.117) (57.7,0.110) (57.1,0.190) (56.7,0.132) (56.3,0.109) (55.5,0.132) (55.5,0.129) (55.4,0.175) (54.9,0.207) (54.3,0.094) (54.1,0.162) (53.8,0.175) (53.4,0.160) (52.9,0.162) (52.4,0.162) (52.0,0.163) (52.6,0.173) (52.2,0.148) (52.5,0.112) (52.5,0.054) (53.2,0.129) (53.46,0.128) (52.93,0.127) (51.4,0.117) (51.2,0.200) (50.7,0.169) (50.3,0.180) (50.5,0.146) (50.56,0.130) (50.56,0.124) (50.48,0.113) (50.08,0.055) (50.08,0.045) (49.66,0.171) (49.54,0.149) (49.27,0.152) (49.45,0.108) (49.11,0.127) (49.13,0.227) (49.27,0.225) (48.64,0.145) (48.87,0.143) (48.55,0.134) (48.16,0.214) (47.75,0.136) (47.5,0.130) (47.7,0.175) (46.96,0.186) (47.3,0.116) (47.3,0.100) (47.03,0.096) (46.46,0.088) (47.46,0.073) (47.76,0.068) (46.46,0.154) (46.5,0.140) (46.6,0.137) (47.0,0.146) (47.1,0.139) (46.6,0.127) (46.4,0.100) (46.3,0.081) (46.3,0.123)
};
\addplot[only marks, mark=+, mark size=2.8bp, mark options={line width=1.0bp, draw=mred}] coordinates {
(8.31,0.636) (9.37,0.483) (8.19,0.417) (9.37,0.417) (9.20,0.449) (11.28,0.451) (12.88,0.445) (13.01,0.404) (13.63,0.390) (13.80,0.384) (11.45,0.380) (8.61,0.370) (8.23,0.356) (8.18,0.354) (13.16,0.374) (15.03,0.374) (15.87,0.373) (16.42,0.381) (11.08,0.357) (13.10,0.355) (15.03,0.357) (16.28,0.357) (16.67,0.351) (18.01,0.345) (14.54,0.346) (13.26,0.345) (9.07,0.344) (9.82,0.344) (10.37,0.341) (11.75,0.340) (8.23,0.334) (10.91,0.332) (13.10,0.328) (12.34,0.324) (8.85,0.322) (8.60,0.315) (9.65,0.318) (9.99,0.311) (10.74,0.316) (11.08,0.319) (11.92,0.331) (15.28,0.321) (16.03,0.322) (13.73,0.312) (14.69,0.309) (17.12,0.296) (20.98,0.308) (21.40,0.301) (22.92,0.301) (22.50,0.283) (23.47,0.286)
(8.39,0.306) (8.90,0.309) (9.40,0.303) (9.82,0.297) (10.41,0.299) (10.91,0.305) (11.58,0.303) (12.09,0.298) (12.76,0.301) (14.10,0.300) (14.61,0.291) (15.36,0.294) (15.70,0.286) (15.44,0.298) (16.79,0.281) (17.21,0.277) (18.13,0.272) (19.14,0.268) (19.81,0.275) (20.48,0.262) (20.90,0.270) (19.47,0.249) (22.50,0.251) (23.25,0.238) (21.24,0.236) (20.40,0.229) (23.17,0.231) (23.50,0.198) (22.66,0.201) (23.17,0.172) (22.16,0.163) (20.82,0.163) (21.24,0.149) (19.81,0.146) (19.31,0.143) (18.63,0.136) (20.15,0.129) (18.47,0.120) (18.13,0.117) (19.81,0.111) (18.97,0.103) (19.47,0.068) (20.73,0.088) (20.99,0.077) (21.82,0.100) (22.58,0.110) (23.42,0.113) (22.41,0.088) (23.67,0.068) (22.66,0.056) (22.75,0.048) (19.73,0.052) (17.88,0.094) (17.29,0.074) (17.80,0.068) (16.45,0.062) (15.95,0.082) (16.96,0.091) (15.44,0.077) (14.77,0.094) (14.27,0.085) (13.60,0.071) (13.60,0.048) (12.76,0.056) (10.74,0.054) (9.40,0.068) (9.82,0.080) (8.23,0.085) (8.39,0.097) (11.08,0.077) (11.92,0.075) (11.42,0.085) (12.09,0.091) (10.41,0.106) (9.90,0.108) (9.40,0.117) (8.90,0.132) (8.39,0.140) (9.07,0.146) (9.90,0.137) (10.58,0.146) (11.08,0.158) (11.75,0.152) (12.59,0.146) (13.26,0.134) (14.10,0.129) (14.61,0.111) (15.11,0.120) (15.78,0.132) (16.12,0.149) (16.62,0.152) (17.12,0.160)
(15.78,0.163) (15.11,0.166) (14.44,0.175) (13.77,0.181) (13.09,0.186) (12.42,0.192) (11.75,0.198) (11.08,0.192) (10.41,0.198) (9.90,0.204) (9.40,0.210) (8.90,0.207) (8.39,0.212) (8.06,0.195) (7.89,0.171) (8.39,0.166) (8.73,0.175) (9.40,0.184) (9.90,0.175) (10.24,0.166) (10.74,0.175) (11.42,0.166) (12.09,0.175) (12.76,0.163) (13.43,0.160) (14.10,0.152) (14.77,0.149) (15.44,0.143) (16.79,0.129) (17.46,0.120) (16.12,0.111) (15.44,0.100) (14.10,0.106) (13.43,0.117) (12.76,0.126) (12.09,0.117) (11.42,0.126) (10.91,0.120) (10.07,0.132) (9.40,0.091) (10.24,0.091)
(7.89,0.250) (7.97,0.240) (8.48,0.233) (9.07,0.244) (9.74,0.252) (10.41,0.253) (11.08,0.244) (11.75,0.248) (12.42,0.256) (13.09,0.242) (13.77,0.250) (14.44,0.257) (15.11,0.247) (15.78,0.253) (16.45,0.249) (17.12,0.244) (17.80,0.251) (18.47,0.238) (8.06,0.267) (8.23,0.279) (8.90,0.276) (9.57,0.285) (10.07,0.290) (10.74,0.288) (11.42,0.279) (12.09,0.273) (12.76,0.279) (13.43,0.276) (14.10,0.270) (14.77,0.279) (15.44,0.273) (16.12,0.264) (16.79,0.264) (17.46,0.256) (18.30,0.262) (8.39,0.224) (9.15,0.221) (10.07,0.227) (10.74,0.221) (11.42,0.227) (12.09,0.215) (12.93,0.221) (13.60,0.227) (14.27,0.215) (14.94,0.221) (15.61,0.212) (16.28,0.221) (16.96,0.215) (17.63,0.221) (18.47,0.215) (19.31,0.207) (20.15,0.212) (20.99,0.207) (21.82,0.212) (19.47,0.186) (20.48,0.192) (21.49,0.184) (18.47,0.192) (17.80,0.181) (16.96,0.192) (18.80,0.163) (17.80,0.149) (18.13,0.091) (19.14,0.085) (20.15,0.071) (17.12,0.106) (8.39,0.126) (7.89,0.169)
(8.7,0.262) (9.3,0.268) (9.9,0.262) (10.6,0.266) (11.2,0.262) (11.9,0.266) (12.6,0.262) (13.2,0.266) (14.0,0.261) (14.8,0.265) (15.7,0.262) (8.6,0.196) (9.2,0.200) (9.7,0.190) (10.3,0.186) (10.9,0.206) (11.5,0.188) (12.2,0.205) (12.8,0.197) (13.5,0.205) (14.2,0.196) (14.9,0.205) (15.6,0.195) (16.3,0.201) (17.2,0.196) (18.0,0.206) (8.9,0.155) (9.6,0.160) (10.2,0.150) (10.9,0.142) (11.6,0.139) (12.3,0.158) (13.0,0.150) (13.8,0.142) (14.6,0.160) (15.4,0.158) (16.4,0.140) (17.3,0.138) (18.5,0.150) (9.0,0.104) (9.6,0.098) (10.9,0.100) (11.6,0.108) (12.5,0.104) (13.2,0.097) (14.0,0.090) (15.2,0.108) (16.3,0.096) (17.0,0.123) (18.3,0.105) (19.5,0.124) (20.6,0.140) (21.7,0.155) (22.9,0.140) (23.2,0.160) (8.1,0.229) (8.2,0.182) (8.3,0.150) (8.1,0.121) (7.95,0.196) (8.05,0.208)
(8.4,0.093) (9.3,0.095) (10.6,0.091) (11.4,0.096) (12.9,0.092) (13.8,0.094) (15.0,0.090) (16.6,0.095)
(8.2,0.112) (9.0,0.115) (10.0,0.110) (11.8,0.113) (12.6,0.116) (13.9,0.111) (14.4,0.114) (15.9,0.110) (16.8,0.113) (18.9,0.115)
(8.7,0.124) (9.7,0.127) (10.5,0.122) (11.2,0.125) (12.2,0.128) (13.5,0.123) (14.9,0.126) (15.6,0.121) (17.7,0.125)
(8.0,0.141) (9.3,0.144) (10.0,0.139) (11.0,0.143) (12.0,0.137) (12.9,0.141) (14.3,0.145) (15.2,0.139) (16.9,0.142) (18.0,0.138)
(8.5,0.158) (9.2,0.161) (10.6,0.156) (11.4,0.159) (12.6,0.155) (13.7,0.160) (14.1,0.157) (15.8,0.154) (16.8,0.159)
(8.1,0.171) (9.0,0.174) (9.7,0.169) (11.0,0.172) (11.8,0.176) (13.3,0.170) (14.8,0.173) (15.5,0.168) (16.5,0.171) (17.6,0.174)
(8.5,0.186) (9.6,0.189) (10.7,0.184) (11.3,0.187) (12.7,0.183) (13.4,0.188) (14.3,0.185) (15.0,0.190) (16.1,0.184) (17.3,0.187)
(8.2,0.203) (9.9,0.206) (10.5,0.201) (11.9,0.204) (12.5,0.200) (13.2,0.207) (14.6,0.202) (15.2,0.205) (16.8,0.199) (17.6,0.204)
(8.8,0.218) (9.6,0.221) (10.9,0.216) (11.5,0.219) (12.4,0.214) (13.4,0.220) (14.0,0.217) (15.4,0.215) (16.1,0.222)
(8.3,0.235) (9.4,0.238) (10.3,0.233) (11.2,0.236) (12.1,0.231) (12.8,0.237) (13.8,0.234) (14.7,0.239) (15.5,0.232) (16.6,0.236)
(8.5,0.258) (9.0,0.255) (10.1,0.260) (11.3,0.256) (12.2,0.259) (13.6,0.254) (14.4,0.258) (15.2,0.261)
(8.3,0.281) (9.1,0.284) (10.2,0.279) (10.9,0.282) (12.3,0.286) (13.2,0.280) (14.3,0.283) (15.9,0.278)
(8.7,0.297) (9.4,0.294) (11.1,0.298) (11.9,0.292) (13.5,0.296)
(8.1,0.100) (8.9,0.102) (10.2,0.099) (11.0,0.101) (12.2,0.098) (13.4,0.103) (14.5,0.100) (15.6,0.097) (17.3,0.101)
(8.6,0.118) (9.5,0.120) (10.6,0.116) (11.4,0.119) (13.2,0.117) (14.9,0.120) (16.3,0.118) (17.3,0.116)
(8.1,0.132) (9.1,0.134) (10.2,0.130) (11.9,0.133) (12.7,0.131) (14.0,0.135) (15.3,0.132) (16.5,0.129) (18.2,0.133)
(8.6,0.148) (9.8,0.150) (10.6,0.146) (11.6,0.149) (12.4,0.147) (13.6,0.151) (14.9,0.146) (15.9,0.149) (17.5,0.147)
(8.0,0.165) (9.5,0.167) (10.1,0.163) (11.8,0.166) (12.3,0.164) (13.3,0.168) (14.6,0.163) (16.2,0.166) (17.2,0.164)
(8.8,0.180) (9.5,0.182) (10.2,0.178) (11.5,0.181) (12.4,0.179) (14.0,0.183) (15.4,0.178) (16.6,0.181) (18.3,0.179)
(8.0,0.194) (9.0,0.196) (10.9,0.192) (11.7,0.195) (13.1,0.193) (13.9,0.197) (15.1,0.192) (16.4,0.195) (17.8,0.193)
(8.5,0.211) (9.3,0.213) (10.3,0.209) (11.5,0.212) (12.9,0.210) (14.0,0.214) (15.0,0.209) (16.4,0.212) (17.1,0.210)
(8.1,0.227) (9.0,0.229) (9.9,0.225) (11.6,0.228) (12.5,0.226) (13.3,0.230) (14.5,0.225) (15.8,0.228) (17.0,0.226)
(8.5,0.244) (9.9,0.246) (10.7,0.242) (12.0,0.245) (12.9,0.243) (14.1,0.247) (15.2,0.242) (16.0,0.245) (17.7,0.243)
(8.4,0.270) (9.6,0.272) (10.4,0.268) (11.6,0.271) (12.5,0.269) (13.8,0.273) (14.9,0.268) (16.4,0.271)
(8.0,0.290) (8.9,0.292) (9.9,0.288) (11.5,0.291) (12.6,0.289) (13.9,0.293) (14.8,0.288)
(9.3,0.318) (12.2,0.316) (14.4,0.320) (9.0,0.326)
(15.2,0.300) (16.4,0.296) (17.0,0.286) (17.9,0.290) (18.6,0.283) (19.3,0.279) (16.2,0.240) (18.0,0.262) (19.9,0.256) (20.6,0.248) (21.9,0.240) (21.2,0.221) (22.6,0.226) (18.3,0.318) (19.0,0.309) (17.6,0.305)
(17.5,0.235) (18.2,0.228) (18.9,0.245) (19.5,0.222) (20.3,0.240) (21.1,0.255) (18.6,0.176) (19.2,0.198) (20.0,0.168) (20.9,0.178) (21.6,0.192) (22.4,0.175) (23.0,0.205) (18.8,0.128) (19.9,0.145) (20.6,0.115) (21.4,0.128) (22.2,0.122) (23.4,0.132) (19.0,0.094) (20.4,0.097) (21.2,0.085) (22.0,0.075) (18.5,0.075) (17.0,0.058) (16.0,0.050) (14.8,0.060)
(26.0,0.271) (25.8,0.220) (27.05,0.214) (28.2,0.226) (29.7,0.228) (30.4,0.235) (31.2,0.199) (30.5,0.183) (30.7,0.171) (28.0,0.173) (26.9,0.188) (27.4,0.160) (28.9,0.156) (29.7,0.156) (25.1,0.175) (26.5,0.168) (29.5,0.132) (25.1,0.117) (26.2,0.112) (26.9,0.113) (25.5,0.102) (24.4,0.093) (23.9,0.085) (26.5,0.080) (26.2,0.064) (24.8,0.057) (27.8,0.096) (31.9,0.094) (30.4,0.112) (31.2,0.113) (32.2,0.148) (33.3,0.144) (33.7,0.077) (35.1,0.052) (34.4,0.126) (35.6,0.124) (35.4,0.114) (35.9,0.096) (36.2,0.082) (36.7,0.089) (37.3,0.088) (36.9,0.139) (35.2,0.156) (38.0,0.123) (38.1,0.108) (38.5,0.104) (39.9,0.113) (39.1,0.176) (42.2,0.165) (43.5,0.189) (43.2,0.094) (44.6,0.129) (34.9,0.223) (35.2,0.209) (33.6,0.110)
};
\end{axis}
\end{tikzpicture}
\end{document}
